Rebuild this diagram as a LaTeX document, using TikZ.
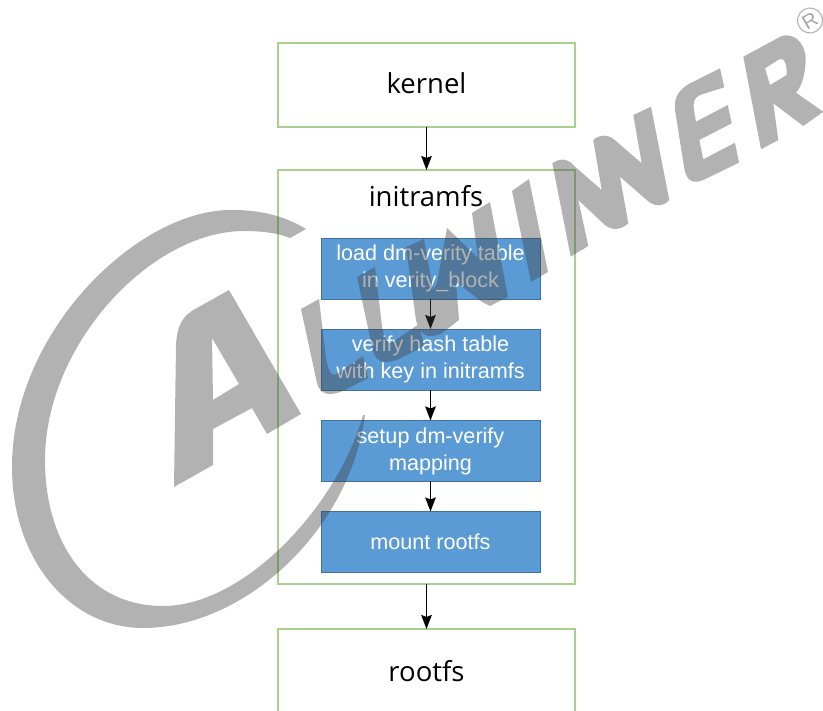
\documentclass[tikz,border=0pt]{standalone}
\usepackage{fontspec}
\setmainfont{Open Sans}
\newfontfamily\boxfont{Liberation Sans}
\usetikzlibrary{arrows.meta}
\definecolor{boxgreen}{HTML}{A9D18E}
\definecolor{stepblue}{HTML}{5B9BD5}
\definecolor{stepedge}{HTML}{41719C}
\tikzset{
  x=1pt,y=-1pt,
  outerbox/.style={draw=boxgreen,line width=1.2pt,fill=none,minimum width=297pt,inner sep=0pt,outer sep=0pt,font=\fontsize{27.5}{32}\selectfont,text=black},
  stepbox/.style={draw=stepedge,line width=.8pt,fill=stepblue,minimum width=219pt,minimum height=61pt,inner sep=0pt,outer sep=0pt,align=center,text=white,font=\boxfont\fontsize{21.6}{27}\selectfont},
  flow/.style={draw=black,line width=1.7pt,-{Stealth[length=14pt,width=10.5pt,inset=2pt]}},
  wm/.style={fill=black!75,fill opacity=.4,even odd rule},
  wmline/.style={draw=black!75,draw opacity=.4,line width=1.1pt,fill=none},
}
\begin{document}
\begin{tikzpicture}
\useasboundingbox (0,0) rectangle (823,711);
\clip (0,0) rectangle (823,711);
\fill[white] (0,0) rectangle (823,711);
% outer boxes
\node[outerbox,minimum height=84pt] (kernel) at (426.5,85) {\raisebox{3pt}{kernel}};
\node[outerbox,minimum height=414pt] (initramfs) at (426.5,377) {};
\node[outerbox,minimum height=84pt] (rootfs) at (426.5,671) {rootfs};
\node[font=\fontsize{27.5}{32}\selectfont] (title) at (426,196.5) {initramfs};
% inner steps
\node[stepbox] (s1) at (430.5,268.5) {\raisebox{-1.5pt}{load dm-verity table}\\\raisebox{-1.5pt}{in verity\_block}};
\node[stepbox] (s2) at (430.5,359.5) {\raisebox{-1.5pt}{verify hash table}\\\raisebox{-1.5pt}{with key in initramfs}};
\node[stepbox] (s3) at (430.5,451) {\raisebox{-1pt}{setup dm-verify}\\\raisebox{-1pt}{mapping}};
\node[stepbox] (s4) at (430.5,542) {mount rootfs};
% connectors
\draw[flow] (kernel) -- (initramfs);
\draw[flow] (initramfs) -- (rootfs);
\draw[flow] (s1) -- (s2);
\draw[flow] (s2) -- (s3);
\draw[flow] (s3) -- (s4);
% watermark: crescent
\fill[wm] (306,229) .. controls (285,216) and (260,210) .. (233,210)
  .. controls (140,208) and (12,330) .. (12,467)
  .. controls (12,560) and (70,628) .. (143,628)
  .. controls (245,628) and (350,530) .. (365,415)
  -- (363,415) .. controls (338,505) and (245,606) .. (163,606)
  .. controls (90,606) and (45,545) .. (45,460)
  .. controls (45,345) and (150,232) .. (243,231)
  .. controls (262,231) and (278,233) .. (290,238) -- cycle;
% A
\fill[wm] (229,290) -- (301,414) -- (267,434) -- (252,408) -- (213,429) -- (213,465) -- (174,487) -- (176,345)
  .. controls (177,325) and (183,315) .. (197,308) -- cycle
  (212,338) -- (239,384) -- (213,400) -- cycle;
% L
\fill[wm] (301,309) -- (319,299) -- (325,350) .. controls (327,368) and (330,378) .. (337,374) -- (363,356) -- (368,378) -- (345,390)
  .. controls (330,397) and (320,395) .. (317,383) -- cycle;
% L and W
\fill[wm,nonzero rule] (357,277) -- (375,267) -- (381,318) .. controls (383,336) and (386,346) .. (393,342) -- (419,324) -- (424,346) -- (401,358)
  .. controls (386,365) and (376,363) .. (373,351) -- cycle
  (406,247) -- (424,239) -- (433,290) -- (437,283) -- (447,228) -- (478,258) -- (472,213) -- (490,202) -- (508,297) -- (490,306) -- (482,302) -- (456,282) -- (459,320)
  -- (442,333) .. controls (428,340) and (420,335) .. (416,320) -- cycle;
% I
\fill[wm] (512,191) -- (529,179) -- (548,272) -- (531,282) -- cycle;
% NN
\fill[wm] (552.3,163.3) .. controls (560,158) and (568,158) .. (575,166.7) -- (601.7,190) -- (593.3,140)
  .. controls (600,134) and (609,134) .. (616.7,141.7) -- (641.7,163.3) -- (633.3,115) -- (651,106.7) -- (669.3,200)
  .. controls (662,208) and (653,206) .. (646.7,200) -- (620,176.7) -- (628.3,223.3)
  .. controls (620,231) and (611,230) .. (605,225) -- (578.3,200) -- (588.3,246) -- (570.7,256.7) -- cycle;
% E
\fill[wm] (720,68.3) -- (690,83.3) .. controls (678,90) and (674,98) .. (675,110) -- (684,166.7) .. controls (686,182) and (694,184) .. (703.3,180)
  -- (739,162.7) -- (735,142.7) -- (703.3,159.3) -- (699.3,140) -- (731.7,123.3) -- (727.7,105) -- (696,121.7) -- (694,110)
  .. controls (693,102) and (694,98) .. (700,95) -- (724.3,87.3) -- cycle;
% R
\fill[wm] (743.3,56.7) -- (781.7,36) .. controls (798,32) and (806,48) .. (805.7,60) .. controls (805,75) and (802,86) .. (796,92.7)
  -- (823.3,111.7) -- (803.3,126) -- (773.3,103.3) -- (778.3,140) -- (761,149.3) -- cycle
  (765,68.3) -- (779.3,59.3) .. controls (785,57) and (787,66) .. (786.7,75) -- (770,85) -- cycle;
% registered mark
\node[circle,wmline,minimum size=25pt,inner sep=0pt,outer sep=0pt,text=black!35,rotate=30,font=\boxfont\fontsize{20}{20}\selectfont] (reg) at (810,20.5) {R};
\end{tikzpicture}
\end{document}
